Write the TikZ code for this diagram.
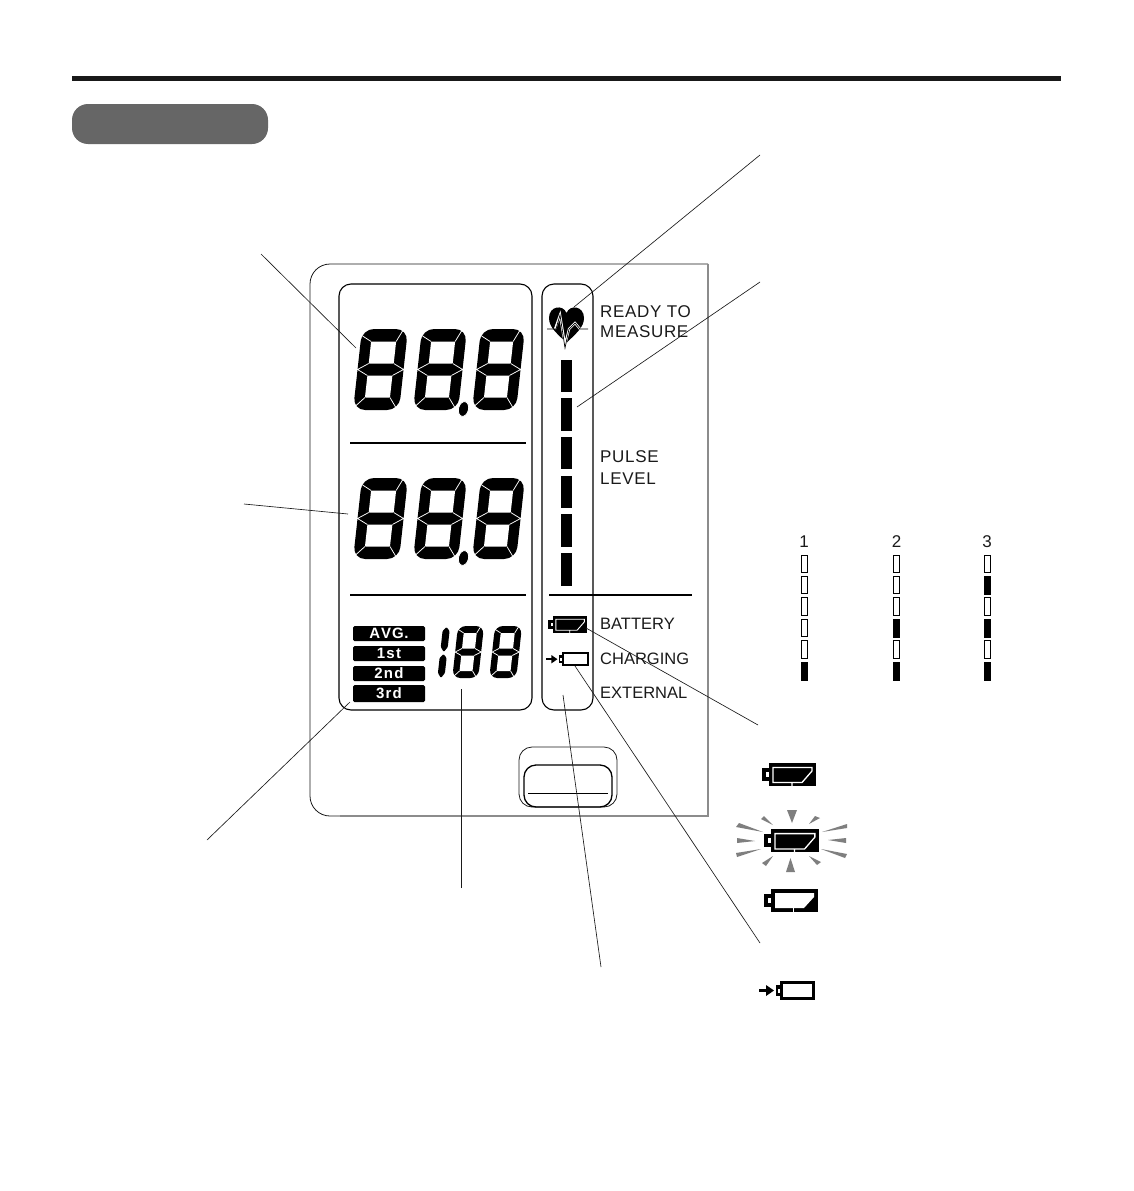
\documentclass[tikz,border=0pt]{standalone}
\usepackage{fontspec}
\setmainfont{Liberation Sans}
\newfontfamily\lblfont[LetterSpace=4]{Liberation Sans}
\newfontfamily\tagfont[LetterSpace=8]{Liberation Sans Bold}
\definecolor{ink}{HTML}{1A1A1A}
\definecolor{ray}{HTML}{7F7F7F}
\tikzset{
  x=1pt,y=-1pt,
  leader/.style={draw=ink,line width=0.65pt},
  lcdtext/.style={anchor=west,inner sep=0pt,text=ink,font=\fontsize{17}{17}\lblfont},
  lowtext/.style={anchor=west,inner sep=0pt,text=ink,font=\fontsize{16.5}{16.5}\selectfont},
  tagbox/.style={fill=black,rounded corners=1.5pt},
  tagtext/.style={text=white,inner sep=0pt,font=\fontsize{15}{15}\tagfont},
  digitnum/.style={text=ink,inner sep=0pt,font=\fontsize{17}{17}\selectfont},
  emptybar/.style={draw=black,line width=1pt,fill=white},
  fullbar/.style={fill=black},
}
% segdigit{x top-left}{y top}{w}{h}{side}{top}{mid}{radius}{separator length}
\newcommand\segdigit[9]{%
  \begin{scope}[shift={(#1,#2)},xslant=0.11]
    \pgfmathsetmacro\dw{#3}\pgfmathsetmacro\dh{#4}\pgfmathsetmacro\dt{#5}\pgfmathsetmacro\dv{#6}\pgfmathsetmacro\dm{#7}
    \pgfmathsetmacro\xb{\dw-\dt}\pgfmathsetmacro\ya{\dh/2-\dm/2}\pgfmathsetmacro\yb{\dh/2+\dm/2}
    \pgfmathsetmacro\yc{\dh-\dv}\pgfmathsetmacro\yh{\dh/2}
    \fill[black,rounded corners=#8] (0,0) rectangle (\dw,\dh);
    \fill[white,rounded corners=0.6] (\dt,\dv) rectangle (\xb,\ya);
    \fill[white,rounded corners=0.6] (\dt,\yb) rectangle (\xb,\yc);
    \draw[white,line width=0.75pt]
      (\dt,\dv)--(\dt-#9,\dv-0.6*#9) (\xb,\dv)--(\xb+0.5*#9,\dv-#9)
      (\dt,\yc)--(\dt-#9,\yc+#9) (\xb,\yc)--(\xb+0.7*#9,\yc+#9)
      (\dt,\ya)--(0,\yh)--(\dt,\yb) (\xb,\ya)--(\dw,\yh)--(\xb,\yb);
  \end{scope}}
\newcommand\battfull[4][1pt]{%
  \begin{scope}[shift={(#2,#3)},scale=#4]
    \fill[black] (0,0) rectangle (47,23);
    \fill[black] (-7,5) rectangle (0,18);
    \fill[white] (-3,9) rectangle (0,14);
    \draw[white,line width=#1,line join=miter] (4,4.5)--(43,4.5)--(43,8)--(33,19.5)--(4,19.5)--cycle (23,19.5)--(23,23);
  \end{scope}}
\newcommand\battlow[3]{%
  \begin{scope}[shift={(#1,#2)},scale=#3]
    \fill[black] (0,0) rectangle (47,23);
    \fill[black] (-7,5) rectangle (0,18);
    \fill[white] (-3,9) rectangle (0,14);
    \fill[white] (4,4)--(43,4)--(43,8)--(33,19)--(4,19)--cycle;
    \fill[white] (21.7,18) rectangle (23.3,23);
  \end{scope}}
\newcommand\battcharge[3]{%
  \begin{scope}[shift={(#1,#2)},scale=#3]
    \draw[black,line width=#3*2.6pt,fill=white] (1.3,1.3) rectangle (33.7,17.7);
    \fill[black] (-4.5,4) rectangle (0,15);
    \fill[white] (-2,7.5) rectangle (0,11.5);
    \draw[black,line width=#3*3pt] (-21,9.5)--(-12,9.5);
    \fill[black] (-6,9.5)--(-14,4)--(-14,15)--cycle;
  \end{scope}}
\begin{document}
\begin{tikzpicture}
\useasboundingbox (0,0) rectangle (1134,1191);
\fill[white] (0,0) rectangle (1134,1191);
% header
\fill[black!90] (72,76) rectangle (1061,80.5);
\fill[black!60,rounded corners=16pt] (72,104) rectangle (268,144);
% device frame
\draw[ink,line width=0.8pt,rounded corners=20pt] (708,264)--(310,264)--(310,816)--(360,816);
\draw[black!45,line width=1.6pt] (340,816)--(708,816)--(708,264);
% display panels
\draw[black,line width=1.1pt,rounded corners=12pt] (339,284) rectangle (532,710);
\draw[black,line width=1.1pt,rounded corners=12pt] (542,284) rectangle (593,710);
\draw[black,line width=1.6pt] (350,443)--(526,443) (350,595)--(526,595);
\draw[black,line width=1.1pt] (549,595)--(692,595);
% big digits
\foreach \yy in {329,478}{
  \segdigit{362}{\yy}{46}{81}{10.5}{12.5}{12}{12}{11}
  \segdigit{422}{\yy}{45}{81}{10.5}{12.5}{12}{12}{11}
  \segdigit{481}{\yy}{44}{81}{10.5}{12.5}{12}{12}{11}
  \pgfmathsetmacro\dy{\yy+80}
  \draw[white,fill=black,line width=0.8pt,shift={(463.5,\dy)},rotate=-14] (0,0) ellipse [x radius=5,y radius=7.5];
}
% small digits
\begin{scope}[shift={(443,627)},xslant=0.11]
  \fill[black,rounded corners=1pt] (0,4)--(3.5,0)--(7,4)--(7,20)--(3.5,25)--(0,20)--cycle;
  \fill[black,rounded corners=1pt] (0,31)--(3.5,27)--(7,31)--(7,46)--(3.5,51)--(0,46)--cycle;
\end{scope}
\segdigit{458}{626}{26}{52}{6.5}{7}{7}{8}{6}
\segdigit{495}{626}{27}{52}{6.5}{7}{7}{8}{6}
% tags
\fill[tagbox] (353,626) rectangle (425,641);
\fill[tagbox] (353,646) rectangle (425,661);
\fill[tagbox] (353,666) rectangle (425,681);
\fill[tagbox] (353,685) rectangle (425,702);
\node[tagtext] (tavg) at (389,633.5) {A\kern1pt V\kern1pt G\kern.5pt.};
\node[tagtext] (tone) at (389,653.5) {1st};
\node[tagtext] (ttwo) at (389,673.5) {2nd};
\node[tagtext] (tthree) at (389,693.5) {3rd};
% heart
\fill[black] (566.5,343) .. controls (558,334) and (549,328) .. (549,318) .. controls (549,306) and (563,304) .. (566.5,313) .. controls (570,304) and (584,306) .. (584,318) .. controls (584,328) and (575,334) .. (566.5,343) -- cycle;
\draw[white,line width=2.3pt,line join=miter] (555,329)--(560,315)--(565,345)--(569,329)--(575,323)--(580,329);
\draw[black,line width=0.7pt,line join=miter] (547,329)--(556,329)--(560,315)--(565,348)--(569,329)--(575,323)--(580,329)--(588,329);
% pulse bars
\foreach \ya/\yb in {360/392,398/431,437/469,476/508,514/547,553/586}
  \fill[black] (561,\ya) rectangle (572,\yb);
% panel icons
\battfull[0.9pt]{553}{616}{0.73}
\battcharge{562}{652}{0.76}
% labels
\node[lcdtext] (lready) at (600,312) {READY TO};
\node[lcdtext] (lmeasure) at (600,332) {MEASURE};
\node[lcdtext] (lpulse) at (600,457) {PULSE};
\node[lcdtext] (llevel) at (600,479) {LEVEL};
\node[lowtext] (lbatt) at (600,624) {BATTERY};
\node[lowtext] (lchg) at (600,659) {CHARGING};
\node[lowtext] (lext) at (600,693) {EXTERNAL};
% button
\draw[ink,line width=0.8pt,rounded corners=13pt] (519,747) rectangle (617,807);
\draw[black,line width=1.3pt,rounded corners=12pt] (524,765) rectangle (612,807);
\draw[black,line width=1pt] (528,793)--(608,793);
% mini level bars
\node[digitnum] (none) at (804,542) {1};
\node[digitnum] (ntwo) at (896.5,542) {2};
\node[digitnum] (nthree) at (987,542) {3};
\foreach \xa/\xb/\lst in {801.5/807/{1,2,3,4,5},893.5/899.5/{1,2,3,5},984/990/{1,3,5}}{
  \foreach \r in \lst {
    \pgfmathsetmacro\ya{555+21.4*(\r-1)}\pgfmathsetmacro\yb{\ya+17.5}
    \draw[emptybar] (\xa,\ya) rectangle (\xb,\yb);
  }
}
\foreach \xa/\xb/\lst in {801/807.5/{6},893/900/{4,6},983.5/990.5/{2,4,6}}{
  \foreach \r in \lst {
    \pgfmathsetmacro\ya{555+21.4*(\r-1)}\pgfmathsetmacro\yb{\ya+18.5}
    \fill[fullbar] (\xa,\ya) rectangle (\xb,\yb);
  }
}
% battery legend
\battfull[1.3pt]{769}{763}{1}
\battfull[1.3pt]{771}{829}{1.02}
\battlow{771}{889}{1}
\battcharge{780}{981}{1}
% rays
\fill[ray] (739,823)--(736,827)--(763,832)--cycle;
\fill[ray] (737,838)--(737,843)--(755,841)--cycle;
\fill[ray] (736,853)--(737,857)--(761,849)--cycle;
\fill[ray] (761,819)--(764,816)--(773,825)--cycle;
\fill[ray] (762,863)--(766,866)--(773,856)--cycle;
\fill[ray] (809,824)--(815,816)--(820,818)--cycle;
\fill[ray] (822,832)--(847,824)--(847,828)--cycle;
\fill[ray] (828,840)--(846,838)--(846,843)--cycle;
\fill[ray] (821,849)--(847,854)--(845,858)--cycle;
\fill[ray] (809,856)--(821,862)--(817,865)--cycle;
\fill[ray] (787,810)--(797,810)--(792,823)--cycle;
\fill[ray] (790.5,858)--(786,872)--(795,872)--cycle;
% leaders
\coordinate (a1) at (261,254); \coordinate (a2) at (356,348);
\coordinate (b1) at (244,504); \coordinate (b2) at (348,514);
\coordinate (c1) at (207,840); \coordinate (c2) at (350,702);
\coordinate (d1) at (461,888); \coordinate (d2) at (461,689);
\coordinate (e1) at (601,967); \coordinate (e2) at (563,695);
\coordinate (f1) at (760,943); \coordinate (f2) at (575,666);
\coordinate (g1) at (758,725); \coordinate (g2) at (586,628);
\coordinate (h1) at (760,155); \coordinate (h2) at (574,307);
\coordinate (i1) at (760,282); \coordinate (i2) at (577,407);
\draw[leader] (a1)--(a2); \draw[leader] (b1)--(b2); \draw[leader] (c1)--(c2);
\draw[leader] (d1)--(d2); \draw[leader] (e1)--(e2); \draw[leader] (f1)--(f2);
\draw[leader] (g1)--(g2); \draw[leader] (h1)--(h2); \draw[leader] (i1)--(i2);
\end{tikzpicture}
\end{document}
